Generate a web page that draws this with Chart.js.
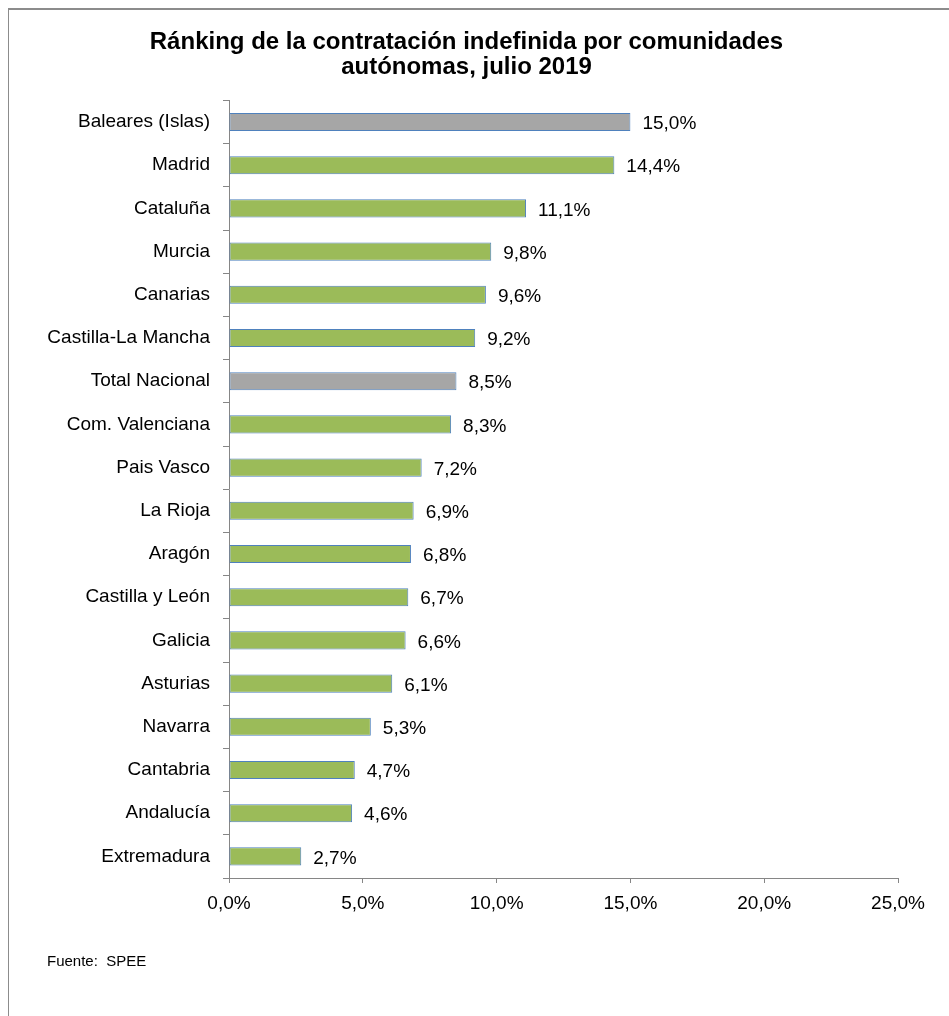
<!DOCTYPE html>
<html lang="es">
<head>
<meta charset="utf-8">
<title>Ránking de la contratación indefinida</title>
<script src="https://cdn.jsdelivr.net/npm/chart.js@4.4.1/dist/chart.umd.min.js"></script>
<style>
  html, body { margin: 0; padding: 0; background: #fff; overflow: hidden; }
  #wrap { position: relative; width: 949px; height: 1016px; }
  #frame {
    position: absolute; left: 8px; top: 8px; width: 1000px; height: 1100px;
    border-left: 1px solid #8c8c8c; border-top: 2px solid #8c8c8c;
  }
  canvas { position: absolute; left: 0; top: 0; }
</style>
</head>
<body>
<div id="wrap">
  <div id="frame"></div>
  <canvas id="rankingChart" width="949" height="1016"></canvas>
</div>
<script>
// --- data ---
const comunidades = [
  "Baleares (Islas)", "Madrid", "Cataluña", "Murcia", "Canarias",
  "Castilla-La Mancha", "Total Nacional", "Com. Valenciana", "Pais Vasco",
  "La Rioja", "Aragón", "Castilla y León", "Galicia", "Asturias",
  "Navarra", "Cantabria", "Andalucía", "Extremadura"
];
const porcentajes = [15.0, 14.4, 11.1, 9.8, 9.6, 9.2, 8.5, 8.3, 7.2, 6.9, 6.8, 6.7, 6.6, 6.1, 5.3, 4.7, 4.6, 2.7];
const destacadas = ["Baleares (Islas)", "Total Nacional"];
const xTicks = [0, 5, 10, 15, 20, 25];

const fmt = (v) => v.toFixed(1).replace(".", ",") + "%";
const FONT = "'Liberation Sans', Arial, sans-serif";

// value labels at the end of each bar + source note
const extraText = {
  id: "extraText",
  afterDatasetsDraw(chart) {
    const ctx = chart.ctx;
    const meta = chart.getDatasetMeta(0);
    ctx.save();
    ctx.font = "19px " + FONT;
    ctx.fillStyle = "#000";
    ctx.textBaseline = "middle";
    ctx.textAlign = "left";
    meta.data.forEach((bar, i) => {
      ctx.fillText(fmt(porcentajes[i]), bar.x + 12, bar.y + 2);
    });
    ctx.font = "15px " + FONT;
    ctx.fillText("Fuente:  SPEE", 47, 962);
    ctx.restore();
  },
};

const ctx = document.getElementById("rankingChart").getContext("2d");
new Chart(ctx, {
  type: "bar",
  data: {
    labels: comunidades,
    datasets: [
      {
        data: porcentajes,
        backgroundColor: comunidades.map((c) => (destacadas.includes(c) ? "#a6a6a6" : "#9bbb59")),
        borderColor: "#4f81bd",
        borderWidth: 1,
        borderSkipped: false,
        categoryPercentage: 1,
        barPercentage: 0.42,
      },
    ],
  },
  options: {
    indexAxis: "y",
    responsive: false,
    animation: false,
    layout: { padding: { left: 35, right: 51, top: 0, bottom: 98 } },
    scales: {
      x: {
        min: 0,
        max: 25,
        afterBuildTicks: (scale) => {
          scale.ticks = xTicks.map((v) => ({ value: v }));
        },
        afterFit: (scale) => { scale.height = 40; },
        border: { color: "#868686", width: 1 },
        grid: { drawOnChartArea: false, drawTicks: true, tickLength: 5, color: "#868686" },
        ticks: {
          color: "#000",
          font: { family: FONT, size: 19 },
          padding: 9,
          maxRotation: 0,
          callback: (v) => fmt(v),
        },
      },
      y: {
        afterFit: (scale) => { scale.width = 194; },
        border: { color: "#868686", width: 1 },
        grid: { drawOnChartArea: false, drawTicks: true, tickLength: 6, color: "#868686" },
        ticks: {
          color: "#000",
          font: { family: FONT, size: 19 },
          padding: 13,
        },
      },
    },
    plugins: {
      legend: { display: false },
      tooltip: { enabled: false },
      title: {
        display: true,
        text: ["Ránking de la contratación indefinida por comunidades", "autónomas, julio 2019"],
        color: "#000",
        font: { family: FONT, size: 24, weight: "bold", lineHeight: 1.05 },
        padding: { top: 30, bottom: 20 },
      },
    },
  },
  plugins: [extraText],
});
</script>
</body>
</html>
